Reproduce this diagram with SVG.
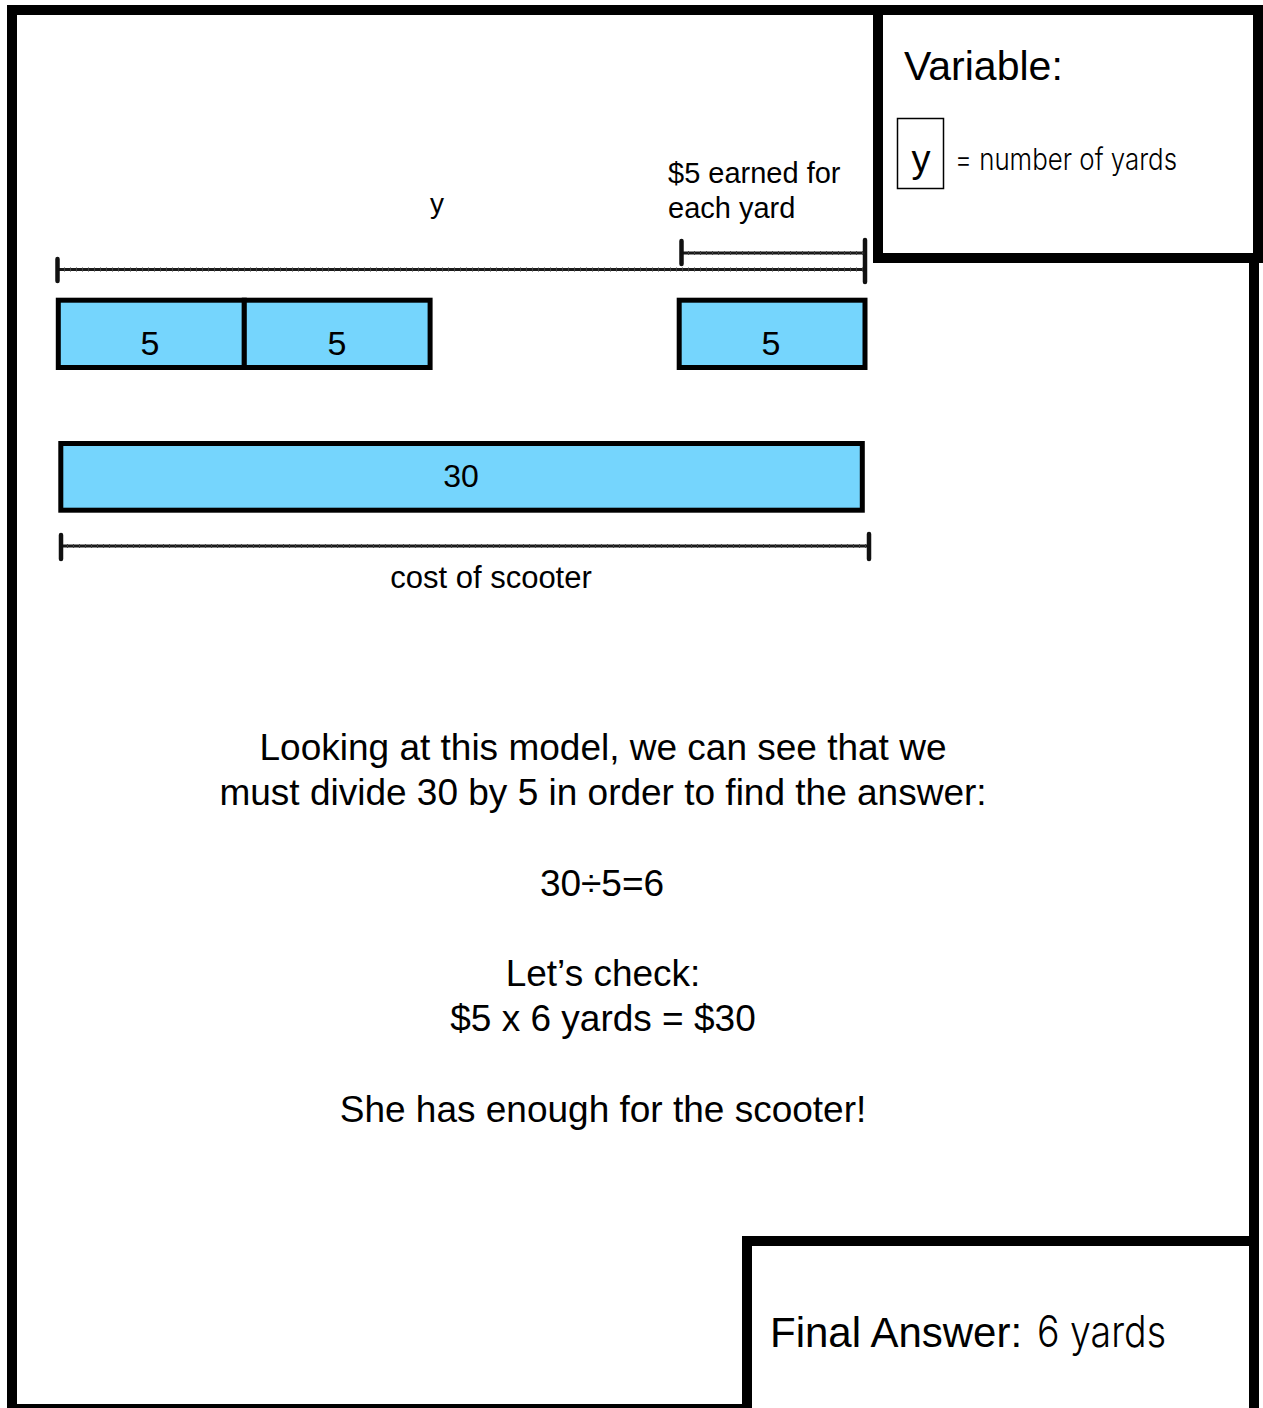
<svg xmlns="http://www.w3.org/2000/svg" width="1263" height="1408" viewBox="0 0 1263 1408">
<style>
.frame{fill:#fff;stroke:#000;stroke-width:10}
.bar{fill:#75d5fd;stroke:#000;stroke-width:5}
.t{font-family:"Liberation Sans",Arial,sans-serif;fill:#000}
.hand{font-family:Inter,"DejaVu Sans Condensed","Liberation Sans",sans-serif;font-weight:300;fill:#000}
.br{stroke:#1a1a1a;stroke-width:3;fill:none}
.rough{stroke:#444;stroke-width:4;stroke-dasharray:1 5;fill:none}
.tick{stroke:#111;stroke-width:4.5;stroke-linecap:round;fill:none}
</style>
<rect width="1263" height="1408" fill="#fff"/>
<g id="outer-frame"><rect class="frame" x="12" y="10" width="1242" height="1399"/></g>
<g id="variable-box">
<rect class="frame" x="878" y="10" width="380" height="248"/>
<text class="t" x="904" y="80" font-size="41">Variable:</text>
<rect x="897.5" y="118.5" width="46" height="70" fill="none" stroke="#000" stroke-width="1.5"/>
<text class="t" x="921" y="172" font-size="38" text-anchor="middle">y</text>
<text class="hand" x="955" y="170" font-size="30" textLength="222" lengthAdjust="spacingAndGlyphs">= number of yards</text>
</g>
<g id="final-answer-box">
<rect class="frame" x="747" y="1241" width="507" height="200"/>
<text class="t" x="770" y="1347" font-size="42">Final Answer:</text>
<text class="hand" x="1037" y="1347" font-size="44" textLength="129" lengthAdjust="spacingAndGlyphs">6 yards</text>
</g>
<g id="bar-5a"><rect class="bar" x="58.3" y="300.2" width="186" height="67.3"/><text class="t" x="150" y="355" font-size="34" text-anchor="middle">5</text></g>
<g id="bar-5b"><rect class="bar" x="244.3" y="300.2" width="185.8" height="67.3"/><text class="t" x="337" y="355" font-size="34" text-anchor="middle">5</text></g>
<g id="bar-5c"><rect class="bar" x="679.2" y="300.2" width="185.8" height="67.3"/><text class="t" x="771" y="355" font-size="34" text-anchor="middle">5</text></g>
<g id="bar-30"><rect class="bar" x="60.8" y="443.5" width="801.5" height="66.7"/><text class="t" x="461" y="487" font-size="32" text-anchor="middle">30</text></g>
<g id="connectors">
<line class="br" x1="58" y1="269.5" x2="866" y2="269.5"/>
<line class="rough" x1="58" y1="269.5" x2="866" y2="269.5"/>
<line class="tick" x1="57.5" y1="259" x2="57.5" y2="281"/>
<line class="tick" x1="865" y1="240" x2="865" y2="282"/>
<line class="br" x1="682" y1="253" x2="865" y2="253"/>
<line class="rough" x1="682" y1="253" x2="865" y2="253"/>
<line class="tick" x1="681.5" y1="241" x2="681.5" y2="264"/>
<line class="br" x1="61" y1="546" x2="869" y2="546"/>
<line class="rough" x1="61" y1="546" x2="869" y2="546"/>
<line class="tick" x1="61" y1="535" x2="61" y2="559"/>
<line class="tick" x1="869" y1="534" x2="869" y2="559"/>
</g>
<g id="labels">
<text class="t" x="437" y="213" font-size="28" text-anchor="middle">y</text>
<text class="t" x="668" y="183" font-size="29">$5 earned for</text>
<text class="t" x="668" y="218" font-size="29">each yard</text>
<text class="t" x="491" y="588" font-size="31" text-anchor="middle">cost of scooter</text>
</g>
<g id="explanation" font-size="37">
<text class="t" x="603" y="760" text-anchor="middle">Looking at this model, we can see that we</text>
<text class="t" x="603" y="805" text-anchor="middle">must divide 30 by 5 in order to find the answer:</text>
<text class="t" x="602" y="896" text-anchor="middle">30÷5=6</text>
<text class="t" x="603" y="986" text-anchor="middle">Let’s check:</text>
<text class="t" x="603" y="1031" text-anchor="middle">$5 x 6 yards = $30</text>
<text class="t" x="603" y="1122" text-anchor="middle">She has enough for the scooter!</text>
</g>
</svg>
